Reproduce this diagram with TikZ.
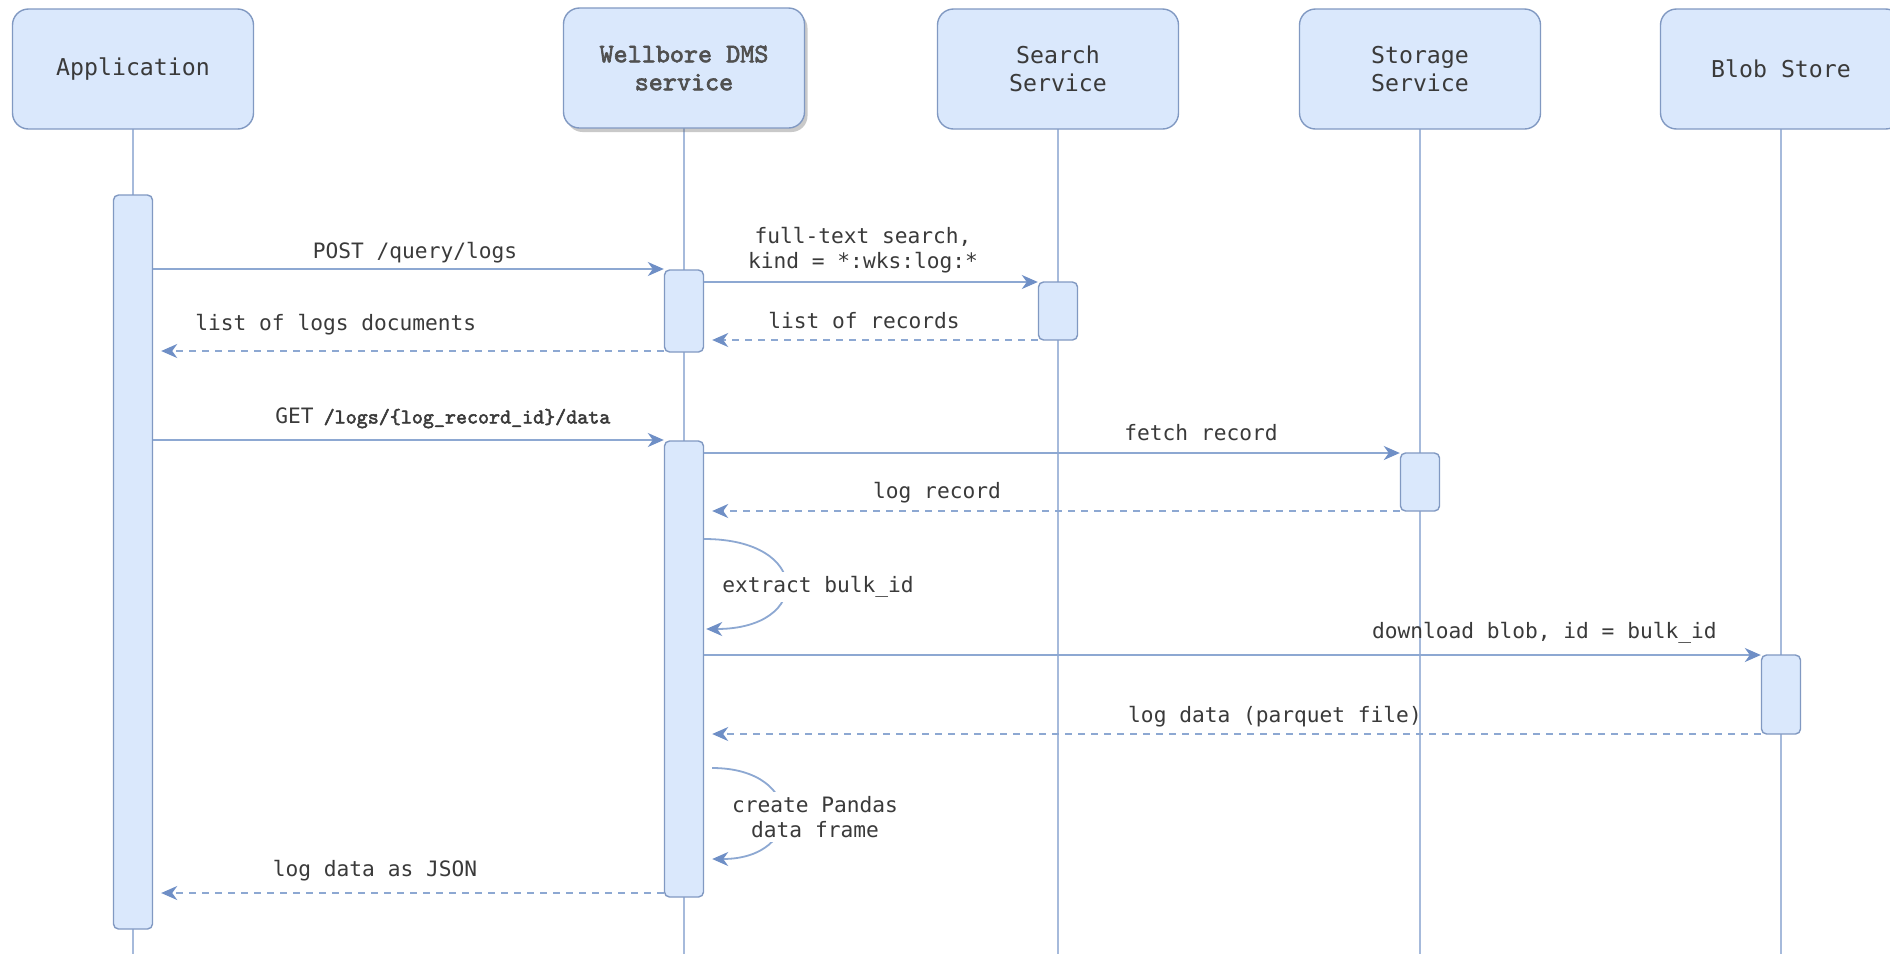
\documentclass[tikz,border=0pt]{standalone}
\usepackage{fontspec}
\newfontfamily\lblfont{DejaVu Sans Mono}
\newfontfamily\heavytt[FakeBold=2.4]{lmmono10-regular.otf}
\usetikzlibrary{arrows.meta,shadows}

\definecolor{boxfill}{HTML}{DAE8FC}
\definecolor{boxline}{HTML}{8199C2}
\definecolor{lifeline}{HTML}{A6BADB}
\definecolor{msgline}{HTML}{8DA8D2}
\definecolor{tipcol}{HTML}{6F8FC6}
\definecolor{txt}{HTML}{3A3A3A}
\definecolor{graytxt}{HTML}{505050}

\tikzset{
  actor/.style={draw=boxline, fill=boxfill, rounded corners=8pt, line width=0.7pt,
    minimum width=120.5pt, minimum height=60pt, inner sep=0pt, align=center,
    text=txt, font=\lblfont\fontsize{11.6}{14}\selectfont},
  activation/.style={draw=boxline, fill=boxfill, rounded corners=2.5pt, line width=0.7pt,
    minimum width=19.5pt, inner sep=0pt},
  life/.style={draw=lifeline, line width=0.8pt},
  msg/.style={draw=msgline, line width=0.9pt,
    -{Stealth[length=8pt,width=7pt,inset=2.5pt,color=tipcol]}},
  reply/.style={msg, dash pattern=on 3.5pt off 3pt},
  lbl/.style={text=txt, inner sep=1pt, font=\lblfont\fontsize{10.6}{12.6}\selectfont, align=center},
  looplbl/.style={lbl, fill=white, inner sep=2pt}
}

\begin{document}
\begin{tikzpicture}[x=0.5pt, y=-0.5pt]
\useasboundingbox (0,0) rectangle (1890,954);
\clip (0,0) rectangle (1890,954);
\fill[white] (0,0) rectangle (1890,954);

% lifelines
\draw[life] (133,128) coordinate (appTop) -- (133,954) coordinate (appEnd);
\draw[life] (684,128) coordinate (wbTop) -- (684,954) coordinate (wbEnd);
\draw[life] (1058,128) coordinate (srTop) -- (1058,954) coordinate (srEnd);
\draw[life] (1420,128) coordinate (stTop) -- (1420,954) coordinate (stEnd);
\draw[life] (1781,128) coordinate (blTop) -- (1781,954) coordinate (blEnd);

% participants
\node[actor] (app) at (133,69) {Application};
\node[actor, drop shadow={shadow xshift=1.5pt, shadow yshift=-2pt, opacity=0.35, fill=black!60},
      text=graytxt, font=\heavytt\fontsize{13.4}{14}\selectfont] (wb) at (684,68) {Wellbore DMS\\service};
\node[actor] (sr) at (1058,69) {Search\\Service};
\node[actor] (st) at (1420,69) {Storage\\Service};
\node[actor] (bl) at (1781,69) {Blob Store};

% activation bars
\node[activation, minimum height=367pt] (appact) at (133,562) {};
\node[activation, minimum height=41pt] (wbact1) at (684,311) {};
\node[activation, minimum height=29pt] (sract) at (1058,311) {};
\node[activation, minimum height=228pt] (wbact2) at (684,669) {};
\node[activation, minimum height=29pt] (stact) at (1420,482) {};
\node[activation, minimum height=39.5pt] (blact) at (1781,694.5) {};

% query for log documents
\draw[msg] (appact.east |- 0,269) -- (wbact1.west |- 0,269);
\node[lbl] (l1) at (415,253) {POST /query/logs};
\draw[msg] (wbact1.east |- 0,282) -- (sract.west |- 0,282);
\node[lbl] (l2) at (863,250) {full-text search,\\kind = *:wks:log:*};
\draw[reply] (sract.west |- 0,340) -- ([xshift=4pt]wbact1.east |- 0,340);
\node[lbl] (l3) at (864,321) {list of records};
\draw[reply] (wbact1.west |- 0,351) -- ([xshift=4pt]appact.east |- 0,351);
\node[lbl, anchor=west] (l4) at (193,325) {list of logs documents};

% fetch log data
\draw[msg] (appact.east |- 0,440) -- (wbact2.west |- 0,440);
\node[lbl, anchor=west] (l5) at (273,418) {GET\hspace{5pt}{\heavytt\fontsize{10.5}{11}\selectfont /logs/\{log\_record\_id\}/data}};
\draw[msg] (wbact2.east |- 0,453) -- (stact.west |- 0,453);
\node[lbl] (l6) at (1201,433) {fetch record};
\draw[reply] (stact.west |- 0,511) -- ([xshift=4pt]wbact2.east |- 0,511);
\node[lbl] (l7) at (937,493) {log record};

% extract bulk id
\draw[msg] (wbact2.east |- 0,539) .. controls (812,539) and (812,629) .. ([xshift=1pt]wbact2.east |- 0,629);
\node[looplbl] (l8) at (818,587) {extract bulk\_id};

% download blob
\draw[msg] (wbact2.east |- 0,655) -- (blact.west |- 0,655);
\node[lbl, anchor=east] (l9) at (1719,633) {download blob, id = bulk\_id};
\draw[reply] (blact.west |- 0,734) -- ([xshift=4pt]wbact2.east |- 0,734);
\node[lbl] (l10) at (1275,717) {log data (parquet file)};

% build the data frame
\draw[msg] ([xshift=4pt]wbact2.east |- 0,768) .. controls (805,768) and (805,859) .. ([xshift=4pt]wbact2.east |- 0,859);
\node[looplbl] (l11) at (815,817) {create Pandas\\data frame};

% reply to application
\draw[reply] (wbact2.west |- 0,893) -- ([xshift=4pt]appact.east |- 0,893);
\node[lbl] (l12) at (375,871) {log data as JSON};
\end{tikzpicture}
\end{document}
